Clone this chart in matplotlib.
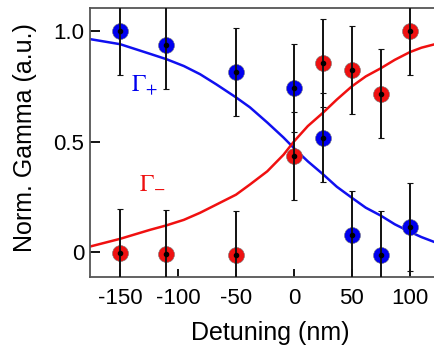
import numpy as np
import matplotlib.pyplot as plt

# measured points
detuning = [-150, -110, -50, 0, 25, 50, 75, 100]
gamma_plus = [1.0, 0.938, 0.816, 0.741, 0.518, 0.077, -0.014, 0.114]
gamma_minus = [-0.005, -0.01, -0.014, 0.433, 0.857, 0.823, 0.717, 1.0]
err_plus = [0.2, 0.2, 0.2, 0.2, 0.2, 0.2, 0.2, 0.2]
err_minus = [0.2, 0.2, 0.2, 0.2, 0.2, 0.2, 0.2, 0.2]

# fit curves
fit_x = [-176, -150, -124, -110, -95, -81, -67, -50, -38, -23, -9, 0,
         12, 25, 37, 50, 62, 75, 87, 100, 110, 121]
fit_plus = [0.964, 0.941, 0.897, 0.873, 0.842, 0.805, 0.759, 0.700, 0.655, 0.586, 0.518, 0.470,
            0.410, 0.352, 0.295, 0.245, 0.200, 0.164, 0.125, 0.091, 0.067, 0.045]
fit_minus = [0.024, 0.059, 0.100, 0.120, 0.145, 0.177, 0.214, 0.259, 0.305, 0.365, 0.440, 0.500,
             0.570, 0.630, 0.690, 0.750, 0.795, 0.832, 0.870, 0.905, 0.925, 0.940]

blue = "#0000ee"
red = "#ee1111"

plt.rcParams["font.family"] = ["Liberation Sans", "DejaVu Sans"]
plt.rcParams["axes.unicode_minus"] = False
plt.rcParams["mathtext.fontset"] = "stix"
fig = plt.figure(figsize=(4.35, 3.52), dpi=100)
ax = fig.add_axes([90 / 435, 1 - 277 / 352, 345 / 435 - 0.002, 269 / 352])

ax.plot(fit_x, fit_plus, color="#1010f0", lw=1.8, zorder=2)
ax.plot(fit_x, fit_minus, color="#f01010", lw=1.8, zorder=2)

for y, e, c in [(gamma_plus, err_plus, blue), (gamma_minus, err_minus, red)]:
    ax.plot(detuning, y, "o", ms=11.5, color=c, mec="#777777", mew=0.4, zorder=3)
    _, caps, _ = ax.errorbar(detuning, y, yerr=e, fmt="none", ecolor="#111111", elinewidth=1.4,
                             capsize=2.5, capthick=0.8, zorder=4)
    for cl in caps:
        cl.set_color("#999999")
    ax.plot(detuning, y, "o", ms=3, color="black", zorder=5)

ax.text(-129, 0.755, r"$\Gamma_{+}$", color=blue, fontsize=17, ha="center", va="center")
ax.text(-122, 0.318, r"$\Gamma_{-}$", color=red, fontsize=17, ha="center", va="center")

ax.set_xlim(-176, 121)
ax.set_ylim(-0.114, 1.105)
ax.set_xticks([-150, -100, -50, 0, 50, 100])
ax.set_yticks([0, 0.5, 1.0])
ax.set_yticklabels(["0", "0.5", "1.0"])
ax.tick_params(axis="x", direction="in", length=6, width=1.3, pad=8, labelsize=16)
ax.tick_params(axis="y", direction="in", length=7, width=1.3, pad=4, labelsize=16)
for s in ax.spines.values():
    s.set_color("#555555")
    s.set_linewidth(1.3)
ax.spines["right"].set_visible(False)

ax.set_xlabel("Detuning (nm)", fontsize=18)
ax.set_ylabel("Norm. Gamma (a.u.)", fontsize=18)
ax.xaxis.set_label_coords(0.525, -0.165)
ax.yaxis.set_label_coords(-0.154, 0.52)

plt.savefig("out.png", dpi=100)
